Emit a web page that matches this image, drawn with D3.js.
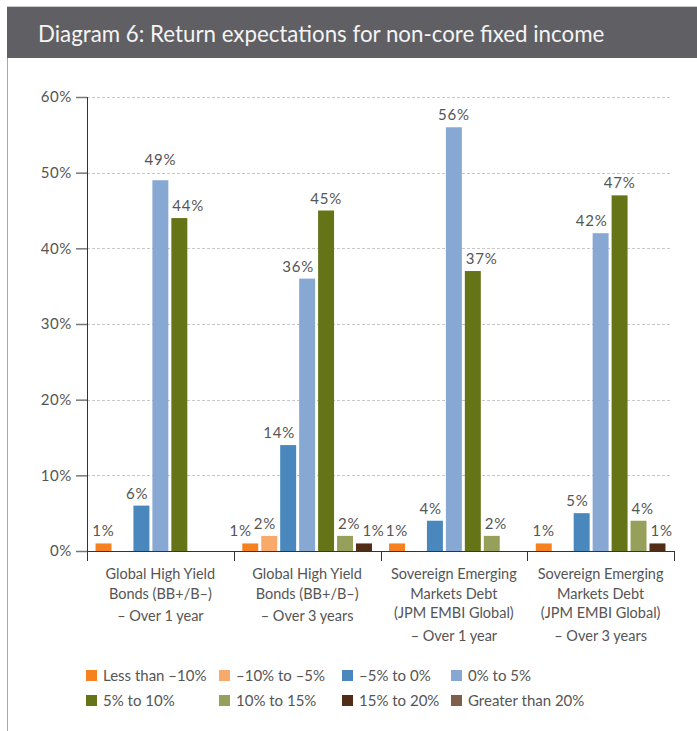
<!DOCTYPE html>
<html>
<head>
<meta charset="utf-8">
<script src="https://cdn.jsdelivr.net/npm/d3@7"></script>
<style>
    body { margin: 0; background: #fff; }
    svg { display: block; }
    text { font-family: Lato, "Open Sans", sans-serif; }
</style>
</head>
<body>
<svg id="chart" width="697" height="731"></svg>
<script>
// Chart data.
const title = "Diagram 6: Return expectations for non-core fixed income";

const series = ["Less than –10%", "–10% to –5%", "–5% to 0%", "0% to 5%",
    "5% to 10%", "10% to 15%", "15% to 20%", "Greater than 20%"];
const seriesColours = ["#f5821f", "#f9aa6b", "#4a87bd", "#87a8d2",
    "#667418", "#97a05a", "#512d17", "#7e5f4b"];

const categoryLines = [
    ["Global High Yield", "Bonds (BB+/B–)", "– Over 1 year"],
    ["Global High Yield", "Bonds (BB+/B–)", "– Over 3 years"],
    ["Sovereign Emerging", "Markets Debt", "(JPM EMBI Global)", "– Over 1 year"],
    ["Sovereign Emerging", "Markets Debt", "(JPM EMBI Global)", "– Over 3 years"]
];

// Percentages per category, in series order.
const highYield1y = [1, 0, 6, 49, 44, 0, 0, 0];
const highYield3y = [1, 2, 14, 36, 45, 2, 1, 0];
const emDebt1y = [1, 0, 4, 56, 37, 2, 0, 0];
const emDebt3y = [1, 0, 5, 42, 47, 4, 1, 0];
const values = [highYield1y, highYield3y, emDebt1y, emDebt3y];

const yTicks = [0, 10, 20, 30, 40, 50, 60];

// Display parameters.
let textColour = "#555";
let plotLeft = 87, plotRight = 674, plotTop = 97, plotBottom = 551;

let svg = d3.select("#chart");

// Header band.
svg.append("rect")
    .attr("x", 7).attr("y", 6)
    .attr("width", 690).attr("height", 52)
    .attr("fill", "#5f5f64");
svg.append("line")
    .attr("x1", 7).attr("x2", 697)
    .attr("y1", 6.5).attr("y2", 6.5)
    .attr("stroke", "#c9c9c9");
svg.append("text")
    .attr("x", 38).attr("y", 42)
    .attr("fill", "#f4f4f4")
    .style("font-size", "22.3px")
    .text(title);

// Left frame line.
svg.append("line")
    .attr("x1", 7.5).attr("x2", 7.5)
    .attr("y1", 58).attr("y2", 731)
    .attr("stroke", "#a8a8a8");

// Scales.
let x0 = d3.scaleBand()
    .domain(d3.range(categoryLines.length))
    .range([plotLeft, plotRight]);

// Only series that hold a value get a slot in the group.
let shown = series.filter((s, i) => values.some(v => v[i] > 0));
let x1 = d3.scaleBand()
    .domain(shown)
    .range([0, x0.bandwidth()])
    .paddingInner(3 / 19)
    .paddingOuter(0.45);

let y = d3.scaleLinear()
    .domain([0, 60])
    .range([plotBottom, plotTop]);

// Gridlines.
svg.append("g")
    .selectAll("line")
    .data(yTicks.filter(t => t > 0))
    .enter()
    .append("line")
    .attr("x1", plotLeft).attr("x2", 671)
    .attr("y1", d => Math.round(y(d)) + 0.5)
    .attr("y2", d => Math.round(y(d)) + 0.5)
    .attr("stroke", "#c8c8c8")
    .attr("stroke-dasharray", "3,2");

// Y axis.
let yAxis = svg.append("g")
    .attr("transform", `translate(${plotLeft},0)`)
    .call(d3.axisLeft(y).tickValues(yTicks).tickSize(11).tickPadding(4)
        .tickFormat(d => d + "%"));
yAxis.select(".domain").remove();
yAxis.selectAll(".tick line").attr("stroke", "#777").attr("stroke-width", 1.5);
yAxis.selectAll(".tick text")
    .attr("fill", textColour)
    .style("font-size", "15px")
    .style("letter-spacing", "0.6px")
    .style("font-family", "Lato, sans-serif");
svg.append("line")
    .attr("x1", plotLeft + 0.5).attr("x2", plotLeft + 0.5)
    .attr("y1", plotTop).attr("y2", plotBottom + 10)
    .attr("stroke", "#333");

// X axis with ticks on the category boundaries.
svg.append("line")
    .attr("x1", plotLeft).attr("x2", plotRight + 0.5)
    .attr("y1", plotBottom + 0.5).attr("y2", plotBottom + 0.5)
    .attr("stroke", "#333");
svg.append("g")
    .selectAll("line")
    .data(d3.range(categoryLines.length + 1))
    .enter()
    .append("line")
    .attr("x1", d => Math.round(plotLeft + d * x0.bandwidth()) + 0.5)
    .attr("x2", d => Math.round(plotLeft + d * x0.bandwidth()) + 0.5)
    .attr("y1", plotBottom).attr("y2", plotBottom + 10)
    .attr("stroke", "#333");

// Category labels.
categoryLines.forEach(function(lines, c) {
    let cx = x0(c) + x0.bandwidth() / 2;
    lines.forEach(function(line, i) {
        let last = i === lines.length - 1;
        svg.append("text")
            .attr("x", cx)
            .attr("y", 579 + i * 19.5 + (last ? 3 : 0))
            .attr("text-anchor", "middle")
            .attr("fill", textColour)
            .style("font-size", "14.5px")
            .text(line);
    });
});

// Bars and value labels, one group per category.
let groups = svg.append("g")
    .selectAll("g")
    .data(values)
    .enter()
    .append("g")
    .attr("transform", (d, c) => `translate(${x0(c)},0)`);

groups.each(function(vals) {
    let g = d3.select(this);
    let bw = x1.bandwidth();

    let items = vals
        .map((v, i) => ({ value: v, index: i, name: series[i], colour: seriesColours[i] }))
        .filter(d => d.value > 0);

    g.selectAll("rect")
        .data(items)
        .enter()
        .append("rect")
        .attr("x", d => x1(d.name))
        .attr("width", bw)
        .attr("y", d => y(d.value))
        .attr("height", d => plotBottom - y(d.value))
        .attr("fill", d => d.colour);

    let labels = g.selectAll("text")
        .data(items)
        .enter()
        .append("text")
        .attr("fill", textColour)
        .style("font-size", "15px")
        .style("letter-spacing", "0.8px")
        .text(d => d.value + "%");

    // Baseline above the bar, lifted over a gridline it would sit on.
    labels.each(function(d) {
        d.w = this.getComputedTextLength();
        let base = y(d.value) - 7;
        let grid = yTicks.map(y).find(t => t > base - 11 && t < base + 2);
        d.y = grid !== undefined ? grid - 8 : base;
    });

    // Move a label away from a taller neighbouring bar.
    let taller = (i, d) => vals[i] > 0 && y(vals[i]) < d.y - 3;
    items.forEach(function(d) {
        let left = x1(d.name);
        let byLeft = d.index > 0 && taller(d.index - 1, d);
        let byRight = d.index < shown.length - 1 && taller(d.index + 1, d);
        d.fixed = byLeft !== byRight;
        if (byLeft && !byRight) d.x = left + 1;
        else if (byRight && !byLeft) d.x = left + bw - 1 - d.w;
        else d.x = left + bw / 2 - d.w / 2;
    });

    // Keep free labels clear of adjacent labels.
    items.forEach(function(d, k) {
        if (d.fixed) return;
        let prev = items[k - 1], next = items[k + 1];
        if (next && next.index === d.index + 1 && Math.abs(next.y - d.y) < 12
            && d.x + d.w + 2 > next.x) {
            d.x = next.x - 2 - d.w;
        }
        if (prev && prev.index === d.index - 1 && Math.abs(prev.y - d.y) < 12
            && prev.x + prev.w + 2 > d.x) {
            d.x = prev.x + prev.w + 2;
        }
    });

    labels.attr("x", d => d.x).attr("y", d => d.y);
});

// Legend.
let legendX = [86, 219, 342, 451];
let legend = svg.append("g")
    .selectAll("g")
    .data(series)
    .enter()
    .append("g")
    .attr("transform", (d, i) => `translate(${legendX[i % 4]},${670 + Math.floor(i / 4) * 25})`);

legend.append("rect")
    .attr("width", 11).attr("height", 11)
    .attr("fill", (d, i) => seriesColours[i]);

legend.append("text")
    .attr("x", 17).attr("y", 10.5)
    .attr("fill", textColour)
    .style("font-size", "15px")
    .text(d => d);
</script>
</body>
</html>
